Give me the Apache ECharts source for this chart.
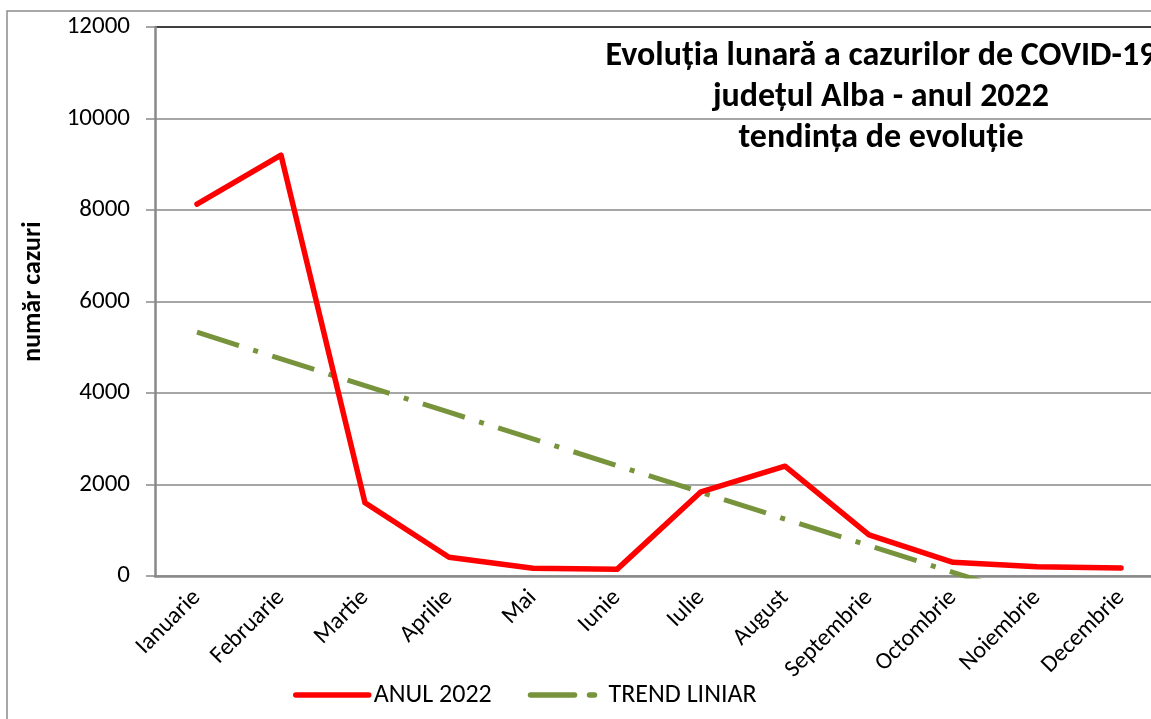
<!DOCTYPE html>
<html>
<head>
<meta charset="utf-8">
<script src="https://cdn.jsdelivr.net/npm/echarts@6/dist/echarts.min.js"></script>
<style>
  html, body { margin: 0; padding: 0; background: #fff; }
  #chart { width: 1151px; height: 719px; }
</style>
</head>
<body>
<div id="chart"></div>
<script>
// luni
const months = ['Ianuarie', 'Februarie', 'Martie', 'Aprilie', 'Mai', 'Iunie',
  'Iulie', 'August', 'Septembrie', 'Octombrie', 'Noiembrie', 'Decembrie'];
// cazuri lunare 2022
const cases2022 = [8130, 9200, 1600, 410, 170, 145, 1840, 2400, 900, 300, 200, 175];
// trend liniar (taiat la 0)
const trendLine = [5330, 4745, 4160, 3580, 2995, 2415, 1830, 1245, 665, 80, -500, -1085];
const yTicks = [0, 2000, 4000, 6000, 8000, 10000, 12000];

const FONT = 'Carlito, Lato, "Open Sans", sans-serif';
const gridGray = '#898989';

let chart = echarts.init(document.getElementById('chart'));
let options = {
  backgroundColor: '#fff',
  animation: false,
  title: {
    text: 'Evoluția lunară a cazurilor de COVID-19\njudețul Alba - anul 2022\ntendința de evoluție',
    left: 876,
    top: 31,
    textAlign: 'center',
    textStyle: {
      fontFamily: FONT,
      fontWeight: 'bold',
      fontSize: 34,
      lineHeight: 41,
      color: '#000'
    }
  },
  graphic: [{
    type: 'rect',
    shape: { x: 7, y: 11, width: 1300, height: 900 },
    style: { fill: 'none', stroke: '#8c8c8c', lineWidth: 1.5 },
    z: -1
  }],
  legend: {
    left: 288,
    top: 677,
    itemWidth: 73,
    itemHeight: 24,
    itemGap: 36,
    itemStyle: { opacity: 0 },
    lineStyle: { width: 5.5, cap: 'round' },
    textStyle: { fontFamily: FONT, fontSize: 26, color: '#000' },
    data: ['ANUL 2022', 'TREND LINIAR']
  },
  grid: {
    left: 155,
    top: 27,
    right: -12,
    bottom: 143,
    containLabel: false,
    outerBoundsMode: 'none'
  },
  xAxis: {
    type: 'category',
    data: months,
    boundaryGap: true,
    axisLine: { lineStyle: { color: gridGray, width: 2.5 } },
    axisTick: { show: false },
    axisLabel: {
      rotate: 45,
      margin: 18,
      interval: 0,
      fontFamily: FONT,
      fontSize: 24,
      color: '#000'
    }
  },
  yAxis: {
    type: 'value',
    min: yTicks[0],
    max: yTicks[yTicks.length - 1],
    interval: 2000,
    name: 'număr cazuri',
    nameLocation: 'middle',
    nameGap: 109,
    nameTextStyle: {
      fontFamily: FONT,
      fontWeight: 'bold',
      fontSize: 26,
      color: '#000',
      padding: [0, 0, 0, 20]
    },
    axisLine: { show: true, lineStyle: { color: gridGray, width: 2.5 } },
    axisTick: { show: true, length: 9, lineStyle: { color: gridGray, width: 1.5 } },
    axisLabel: {
      margin: 25,
      fontFamily: FONT,
      fontSize: 25,
      color: '#000',
      formatter: (v) => String(v)
    },
    splitLine: {
      show: true,
      lineStyle: {
        color: [gridGray, gridGray, gridGray, gridGray, gridGray, gridGray, '#000'],
        width: 1.5
      }
    }
  },
  series: [
    {
      name: 'ANUL 2022',
      type: 'line',
      data: cases2022,
      symbol: 'none',
      clip: true,
      lineStyle: { color: '#ff0000', width: 5.5, cap: 'round', join: 'round' },
      itemStyle: { color: '#ff0000' },
      z: 3
    },
    {
      name: 'TREND LINIAR',
      type: 'line',
      data: trendLine,
      symbol: 'none',
      clip: true,
      lineStyle: { color: '#77933c', width: 5, type: [44, 15, 5, 15], cap: 'butt' },
      itemStyle: { color: '#77933c' },
      z: 2
    }
  ]
};
chart.setOption(options);
window.addEventListener('resize', () => { chart.resize(); });
</script>
</body>
</html>
